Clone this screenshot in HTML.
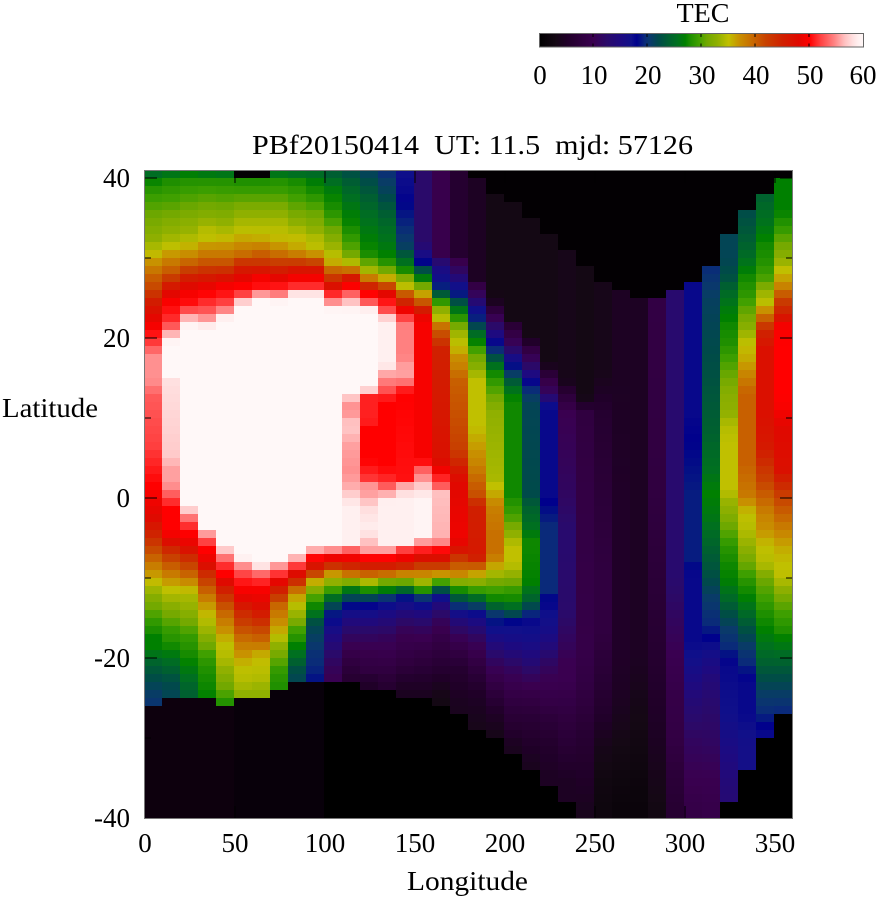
<!DOCTYPE html>
<html>
<head>
<meta charset="utf-8">
<style>
html,body{margin:0;padding:0;background:#fff;}
svg{display:block;}
text{font-family:"Liberation Serif","DejaVu Serif",serif;fill:#000;}
</style>
</head>
<body>
<svg id="s" xmlns="http://www.w3.org/2000/svg" width="878" height="900" viewBox="0 0 878 900">
<defs>
<linearGradient id="cb" x1="0" y1="0" x2="1" y2="0">
<stop offset="0" stop-color="#000000"/>
<stop offset="0.05" stop-color="#140814"/>
<stop offset="0.0833" stop-color="#200028"/>
<stop offset="0.1333" stop-color="#300040"/>
<stop offset="0.1667" stop-color="#3a0050"/>
<stop offset="0.2083" stop-color="#2a0a6a"/>
<stop offset="0.25" stop-color="#1e0a80"/>
<stop offset="0.2833" stop-color="#10108a"/>
<stop offset="0.30" stop-color="#00008c"/>
<stop offset="0.325" stop-color="#0a2a7a"/>
<stop offset="0.3417" stop-color="#0a3a6a"/>
<stop offset="0.3667" stop-color="#004a4a"/>
<stop offset="0.40" stop-color="#006030"/>
<stop offset="0.425" stop-color="#007020"/>
<stop offset="0.45" stop-color="#008000"/>
<stop offset="0.4667" stop-color="#209000"/>
<stop offset="0.4917" stop-color="#40a000"/>
<stop offset="0.5167" stop-color="#70a800"/>
<stop offset="0.55" stop-color="#90b000"/>
<stop offset="0.5833" stop-color="#c0c000"/>
<stop offset="0.6167" stop-color="#c89000"/>
<stop offset="0.65" stop-color="#c87000"/>
<stop offset="0.6667" stop-color="#c86000"/>
<stop offset="0.70" stop-color="#c84000"/>
<stop offset="0.75" stop-color="#d02000"/>
<stop offset="0.80" stop-color="#e00800"/>
<stop offset="0.8333" stop-color="#ff0000"/>
<stop offset="0.8667" stop-color="#ff4040"/>
<stop offset="0.9083" stop-color="#ff8080"/>
<stop offset="0.9417" stop-color="#ffc0c0"/>
<stop offset="0.9667" stop-color="#ffe0e0"/>
<stop offset="0.9833" stop-color="#fff0f0"/>
<stop offset="1" stop-color="#fff8f8"/>
</linearGradient>
</defs>

<!-- colorbar -->
<text x="703" y="22" font-size="27" text-anchor="middle" textLength="53" lengthAdjust="spacingAndGlyphs">TEC</text>
<rect x="539.5" y="33.5" width="324" height="13.5" fill="url(#cb)" stroke="#666" stroke-width="1"/>
<g stroke="#000" stroke-width="1">
<line x1="593" y1="34" x2="593" y2="37"/><line x1="593" y1="43.5" x2="593" y2="46.5"/>
<line x1="647" y1="34" x2="647" y2="37"/><line x1="647" y1="43.5" x2="647" y2="46.5"/>
<line x1="701" y1="34" x2="701" y2="37"/><line x1="701" y1="43.5" x2="701" y2="46.5"/>
<line x1="755" y1="34" x2="755" y2="37"/><line x1="755" y1="43.5" x2="755" y2="46.5"/>
<line x1="809" y1="34" x2="809" y2="37"/><line x1="809" y1="43.5" x2="809" y2="46.5"/>
</g>
<g font-size="27" text-anchor="middle">
<text x="540" y="84">0</text>
<text x="594" y="84">10</text>
<text x="648" y="84">20</text>
<text x="702" y="84">30</text>
<text x="756" y="84">40</text>
<text x="810" y="84">50</text>
<text x="863" y="84">60</text>
</g>

<!-- title -->
<text x="472.5" y="154" font-size="27" text-anchor="middle" textLength="441" lengthAdjust="spacingAndGlyphs" xml:space="preserve">PBf20150414  UT: 11.5  mjd: 57126</text>

<!-- heatmap -->
<g id="hm" shape-rendering="crispEdges"></g>

<!-- frame -->
<rect x="144.5" y="170.5" width="648" height="648" fill="none" stroke="#777" stroke-width="1"/>
<g stroke="#000" stroke-width="1.2" shape-rendering="crispEdges">
<line x1="145" y1="178" x2="157" y2="178"/><line x1="145" y1="258" x2="151" y2="258"/>
<line x1="145" y1="338" x2="157" y2="338"/><line x1="145" y1="418" x2="151" y2="418"/>
<line x1="145" y1="498" x2="157" y2="498"/><line x1="145" y1="578" x2="151" y2="578"/>
<line x1="145" y1="658" x2="157" y2="658"/><line x1="145" y1="738" x2="151" y2="738"/>
<line x1="792" y1="178" x2="780" y2="178"/><line x1="792" y1="258" x2="786" y2="258"/>
<line x1="792" y1="338" x2="780" y2="338"/><line x1="792" y1="418" x2="786" y2="418"/>
<line x1="792" y1="498" x2="780" y2="498"/><line x1="792" y1="578" x2="786" y2="578"/>
<line x1="792" y1="658" x2="780" y2="658"/><line x1="792" y1="738" x2="786" y2="738"/>
<line x1="235" y1="171" x2="235" y2="183"/><line x1="325" y1="171" x2="325" y2="183"/>
<line x1="415" y1="171" x2="415" y2="183"/><line x1="505" y1="171" x2="505" y2="183"/>
<line x1="595" y1="171" x2="595" y2="183"/><line x1="685" y1="171" x2="685" y2="183"/>
<line x1="775" y1="171" x2="775" y2="183"/>
<line x1="235" y1="818" x2="235" y2="806"/><line x1="325" y1="818" x2="325" y2="806"/>
<line x1="415" y1="818" x2="415" y2="806"/><line x1="505" y1="818" x2="505" y2="806"/>
<line x1="595" y1="818" x2="595" y2="806"/><line x1="685" y1="818" x2="685" y2="806"/>
<line x1="775" y1="818" x2="775" y2="806"/>
</g>

<!-- y tick labels -->
<g font-size="27" text-anchor="end">
<text x="130" y="187">40</text>
<text x="130" y="347">20</text>
<text x="130" y="507">0</text>
<text x="130" y="667">-20</text>
<text x="130" y="827">-40</text>
</g>
<!-- x tick labels -->
<g font-size="27" text-anchor="middle">
<text x="145" y="852">0</text>
<text x="235" y="852">50</text>
<text x="325" y="852">100</text>
<text x="415" y="852">150</text>
<text x="505" y="852">200</text>
<text x="595" y="852">250</text>
<text x="685" y="852">300</text>
<text x="775" y="852">350</text>
</g>
<text x="467.5" y="890" font-size="27" text-anchor="middle" textLength="121" lengthAdjust="spacingAndGlyphs">Longitude</text>
<text x="50" y="417" font-size="27" text-anchor="middle" textLength="96" lengthAdjust="spacingAndGlyphs">Latitude</text>
</svg>

<script>
(function(){
var P=[[0,"000000"],[3,"140814"],[5,"200028"],[8,"300040"],[10,"3a0050"],[12.5,"2a0a6a"],[15,"1e0a80"],[17,"10108a"],[18,"00008c"],[19.5,"0a2a7a"],[20.5,"0a3a6a"],[22,"004a4a"],[24,"006030"],[25.5,"007020"],[27,"008000"],[28,"209000"],[29.5,"40a000"],[31,"70a800"],[33,"90b000"],[35,"c0c000"],[37,"c89000"],[39,"c87000"],[40,"c86000"],[42,"c84000"],[45,"d02000"],[48,"e00800"],[50,"ff0000"],[52,"ff4040"],[54.5,"ff8080"],[56.5,"ffc0c0"],[58,"ffe0e0"],[59,"fff0f0"],[60,"fff8f8"]];
var PR=P.map(function(p){var h=p[1];return [p[0],parseInt(h.substr(0,2),16),parseInt(h.substr(2,2),16),parseInt(h.substr(4,2),16)];});
function pal(v){
  if(v<=0)return "rgb(0,0,0)";
  for(var i=1;i<PR.length;i++){
    if(v<=PR[i][0]){
      var a=PR[i-1],b=PR[i],t=(v-a[0])/(b[0]-a[0]);
      return "rgb("+Math.round(a[1]+(b[1]-a[1])*t)+","+Math.round(a[2]+(b[2]-a[2])*t)+","+Math.round(a[3]+(b[3]-a[3])*t)+")";
    }
  }
  var l=PR[PR.length-1];return "rgb("+l[1]+","+l[2]+","+l[3]+")";
}
function interp(k,L){
  if(L>=k[0])return k[1];
  for(var i=2;i<k.length;i+=2){
    if(L>=k[i]){var l0=k[i-2],v0=k[i-1],l1=k[i],v1=k[i+1];return v0+(v1-v0)*(L-l0)/(l1-l0);}
  }
  return k[k.length-1];
}
var N=99;
var C=[
[N,-26.3,[40,24,38.8,27,36.9,29,34.4,31,31.4,33,29.8,35,28,38,26.8,40,25.2,42,24,45,22,48,20.2,50,18.6,52,17,55,14,55,12,53,6,52,3.5,51,1,50,-2.8,48,-4.8,45,-6.5,42,-7.8,40,-9,38,-11,35,-12.2,33,-14,31,-15.6,29,-17.7,27,-19,27,-21,24,-23,22,-24.2,21,-26,20]],
[N,-25.2,[40,25,38.5,28,35.9,30,33.8,32,31.8,33.5,30.5,35,28.9,38,27.7,40,26.8,42,26,45,24.8,48,23.5,50,21.9,51,20.7,53,19.8,56,18.6,60,14.5,60,14,58,5,57,3,55.5,1.3,55.5,0.5,54,-0.7,52,-1.6,50,-4.5,50,-5.7,48,-7.3,43,-9,40,-10.6,37,-11.8,35,-13.5,33,-15.1,31,-16.8,29,-18.4,28,-20,26,-21.7,24,-23.4,22,-25,21.5]],
[N,-25.2,[40,26,38.8,28,35.9,30.5,33.8,32.5,32.2,33.5,31,35,29.7,37,28.5,40,27.7,42,26.8,45,25.6,48,24.4,50,23.5,50.5,22.7,52.5,21.9,55.5,21,59,20.5,60,-1.2,60,-2,57,-2.8,54.5,-3.6,52,-4.9,50,-6.5,48,-8.2,43,-9.8,40,-11.4,36,-12.7,34,-14.3,33,-16,31,-17.6,29,-19.3,28,-20.9,27,-22.6,25.5,-24.2,24]],
[N,-25.2,[40,25,38.8,28,36.3,30.5,34.2,32.5,32.6,34.5,31.4,35,30.5,37,29.3,39,28.1,42,27,45,26,48,24.8,50,24,51,23.1,52,21.9,54.5,21,58,20.3,60,-4,60,-4.9,55.5,-5.7,52.5,-6.9,50,-8.6,48,-10.2,43,-11.9,40,-13.5,37,-15.1,35,-16.8,33.5,-18.4,31.5,-20.1,29,-21.7,28,-23.4,27.5,-25,27]],
[N,-26.3,[40,24.5,38.8,28,37.1,29.5,35,31.5,33,33.5,31.8,35,30.5,37,29.3,39,28.1,42,27.2,45,26,49,25.2,50,24,51.5,23.1,53,22.3,56.5,21.5,60,-6.1,60,-6.9,57,-7.7,54.5,-8.8,51.5,-10.2,49.5,-11.9,45,-13.5,41.5,-15.1,39,-16.8,37,-18.4,35,-20.1,34.5,-21.7,33,-23.4,31.5,-24.6,30,-25.8,28]],
[39,-25.2,[39,27.5,37.1,29.5,35,32.5,33,34.5,32.2,35,31,37,29.7,39,28.9,42,28.1,45,26.8,48,25.6,50,24.8,51.5,24,55.5,23.2,60,-7.7,60,-8.6,56,-9.4,53,-10.6,51,-11.9,49.5,-13.1,48,-14.7,44,-16.4,41.5,-18,39,-19.7,37,-21.3,35,-23,34.5,-24.6,33]],
[39,-25.2,[39,27.5,37.1,29.5,35,32.5,33,34.5,32,35,31,37,30.1,39,28.9,42,28,45,27.2,48,26.4,50,25.6,50.5,24.8,54.5,24,60,-8.6,60,-9.4,55,-10.6,51.5,-11.9,49.5,-13.5,48,-15.1,45,-16.8,41.5,-18.4,39,-19.7,36,-20.9,35,-22.6,34.5,-24.2,33]],
[N,-24.2,[40,24.5,38.8,28,37.1,29.5,35,32.5,33,34.5,31.8,35,30.5,37,29.3,40,28.1,44,26.8,48,26,50,25.2,51.5,24.4,56,23.6,60,-8.2,60,-9,54.5,-10.2,50.5,-11.9,45,-13.5,40,-15.1,38,-16.8,36,-18.4,33.5,-20.1,31,-21.7,29,-23.4,28]],
[N,-23.2,[40,24,38.8,27.5,37.1,29,35,31,33,33.5,31.8,35,30.5,36,29.3,39,28.1,45,27.2,48,26.4,50,25.6,51.5,24.8,58,24,60,-6.9,60,-7.7,57,-8.6,53,-9.8,48,-11,43,-12.3,37,-13.5,35,-15.1,33,-16.8,29.5,-18.4,27.5,-20.1,25,-21.7,22.5,-23,21.5]],
[N,-23.2,[40,24,38.8,26.5,37.1,28,35,30.5,33,32.5,31.4,34.5,30.1,35,28.9,40,28.1,45,27.2,48,26.4,50,25.6,51.5,24.8,58,24,60,-6.5,60,-7.3,52,-8.6,48,-9.8,42,-11,35,-12.3,31,-13.5,28,-14.7,26,-16,22,-17.6,21,-19.3,20,-21.3,19.5,-23,18.5]],
[N,-23.2,[40,23,38.8,25,37.1,27,35,28,33,30.5,31.4,32.5,29.7,34.5,28.5,36,27.2,41.5,26,45,25.2,50,24,53,23.1,59,22.5,60,-6.5,60,-6.9,55,-7.7,50,-8.8,44,-9.8,37,-11,32.5,-12.3,27.5,-13.5,22.5,-14.7,19,-16,17,-17.6,15,-19.3,13,-21.3,11,-23,10]],
[N,-23.2,[40,22,38.8,23.5,37.1,25,35,26.5,33,27.5,31.4,29,29.7,31,28.9,33.5,28.1,36,27.2,42,26.4,48,25.6,50,24.8,53,24,55.5,23.1,59,22.3,60,12.8,60,12,57,10.5,54.5,8.5,57,6,55.5,3,55,1.3,55.5,0.5,56.5,-0.7,58,-1.5,59,-6,59,-6.5,55,-7.7,50,-9,44,-10.2,37,-11,31,-12.3,23.5,-13.5,19,-14.7,16.5,-16,14,-17.6,11.5,-19.3,9.5,-21.3,7.5,-23,6]],
[N,-24.2,[40,21,38.8,22,37.1,23.5,35,25,33,26,31,27,29.3,28,28.1,32.5,27.2,35,26.4,40,25.6,45,24.8,50,24,50.5,23.1,58,22.3,60,13.2,60,12.8,57,12,51,9,51,8.3,50,4.2,50,2,51.5,1.3,55,0,55.5,-2,58,-4.5,59,-5.5,57,-6.9,55.5,-7.7,51,-9,45,-10.2,38,-11.4,31,-12.7,22,-13.9,17.5,-15.1,16,-16.8,12.5,-18.4,10.5,-20.1,9,-21.7,8,-23.4,5]],
[N,-24.2,[40,19.5,38.8,20.5,37.1,21.5,35,23.5,33,25,31,26,28.9,27.5,27.7,31,26.8,35,25.6,42,24.8,48,24,50,23.1,52,22.3,53,21.5,59,16,59,15,56,14,54.5,12.4,52,11.5,50,3.4,50,1.5,51.5,0,56,-1,59,-6,59,-6.9,55.5,-7.7,51,-9,45,-10.2,37,-11,30,-11.8,27,-12.7,20.5,-13.9,17,-15.6,14,-17.6,11,-19.7,9.5,-21.7,8,-23.8,6]],
[N,-25.2,[40,17,37.1,17.5,33,19.5,30.5,21,28.9,25,27.7,27.5,26.4,33,25.6,35,24.8,40,24,43,23.1,48,22.3,50,21.5,53,20.7,54.5,17,54.5,15.7,55.5,14.1,55.5,13.5,52,12.4,50,1.7,50.5,1.3,55,0,58,-1,59,-6,59,-6.9,52,-8.2,48,-9.4,42,-10.2,35,-11.4,27.5,-12.7,19,-13.9,16,-15.6,12.5,-17.2,10,-19.3,9,-21.3,7.5,-23.4,5,-25,4]],
[N,-25.2,[40,12.5,31,12.5,30.1,15,28.9,17,28.1,20.5,27,25,26,29.5,25,35,24,39,22.9,45,21.5,49.5,4.2,49.5,3.4,52.5,1.7,55.5,0.5,58,-1,59.5,-5,59.5,-5.8,56,-6.5,52.5,-7.7,48,-9,42,-9.8,38,-10.6,35,-11.9,28,-12.7,20.5,-13.9,17,-15.1,14,-16.8,11,-19.3,8.5,-21.3,7,-23.4,5,-25,4]],
[N,-26.3,[40,9.5,29.5,9.5,28.9,12.5,27.7,15.5,26.4,17,25.2,20.5,24,27.5,22.7,33,21.5,35,20.7,39,19.4,42,17.8,45,4.2,47,2.5,50,1.3,52.5,0.5,54,0,56.5,-5.7,56,-6.5,51.5,-7.7,48,-9,42,-10.2,35,-11,28.5,-11.9,22,-12.7,17.5,-13.9,14,-15.6,11,-17.6,9,-19.7,7.5,-21.7,6,-23.8,4,-25.4,3]],
[N,-27.3,[40,6,29.5,6,28.9,9,27.2,12.5,25.6,17,24.4,19.5,23.1,25,21.9,28,20.7,31.5,19.4,34.5,18.2,35,17,37,15.7,38,14.1,40,5.8,42,4.2,44,2.5,47,1.3,48,-5.3,49,-6.5,48,-8.2,42,-9.8,38,-10.6,33.5,-11.9,27.5,-13.1,22,-13.9,19.5,-15.1,15.5,-16.4,12.5,-18,10,-19.7,8,-21.7,6,-23.8,5,-26.3,4]],
[39,-29.1,[39,4.5,26.5,4.5,25.6,9,24,12.5,22.7,17,21.1,20.5,19.8,25,18.6,27.5,17.4,30.5,15.7,32.5,14.1,35,8.3,35,6.7,36,5,37,3.4,38,1.3,40,0,41,-1.5,45,-7.7,46,-9.4,38,-10.6,33.5,-12.3,27.5,-13.5,22,-14.7,17.5,-16.4,14,-18,11,-20.1,9,-22.2,7,-24.6,5,-27.1,4,-29,3.5]],
[37.2,-30.2,[37.2,3,24.8,3,23.5,4.5,22.3,9,20.7,12.5,19,17,17.4,20.5,16.1,25,14.9,27.5,13.3,29.5,11.6,31.5,10,33,2,34,0,36,-1.5,38,-5,39,-7.5,39,-9.4,35,-11,31,-12.7,28,-13.9,24,-14.7,20.5,-16.8,17,-18.8,14,-21,11,-23,9,-25,7,-27,5,-29.5,3.5]],
[36.1,-32.2,[36.1,3,21.5,3,20.7,7,19,10,17.8,12.5,16.5,17,14.9,20.5,13.3,25,11.6,27.5,0,27.5,-1.5,28.5,-3,30,-5,33,-6.5,35,-8.5,35,-10,33,-11.5,29.5,-12.7,28,-14,25,-15,21,-16,17.5,-18,16,-19.7,14,-21.3,11.5,-23,10,-25,8.5,-27.1,7,-29.5,5.5,-31.2,4]],
[34,-34.1,[34,3,19.8,3,19,4.5,17.4,9.5,15.7,12.5,14.1,17,12.4,20.5,10.8,21.5,0,22,-1.5,24,-4,25.5,-6,27.5,-11,27,-13.1,24,-14.3,20.5,-15.6,17.5,-17,17,-18.9,15.5,-20.5,14,-22.2,11.5,-24.6,9,-27.1,7,-30.4,5.5,-33.3,4]],
[32.2,-36.2,[32.2,3,16.5,3,15.5,4.5,14.5,8,12.4,11.5,10.8,17.5,0,17.5,-4,19.5,-12,19.5,-13,18,-15,17,-17,16,-19,14,-21,11.5,-23,10,-25.4,9,-28,7,-31.2,5.5,-34.5,4.5]],
[30.1,-38,[30.1,3.5,14,3.5,12.4,7,10,10,0,11.5,-5,13,-15,12.5,-20.9,10,-23,10,-27.1,8,-31.2,6.5,-35.3,4.5]],
[28.3,-N,[28.3,3,12,3,10,8,0,8.5,-20,9,-25,8,-29.1,6.5,-33.3,5.5,-37.4,4.5,-40,3.5]],
[26.2,-N,[26.2,3.5,15,3.5,10,6,0,7,-10,8,-17,8,-23,6.5,-27.1,5.5,-31.2,3.5,-35.3,2.5,-40,2]],
[25.2,-N,[25.2,4.5,15,4.5,0,5,-20,5,-25,4.5,-31,3,-36,2,-40,1.5]],
[24.3,-N,[24.3,4.5,0,4.5,-20,4.5,-25,3.5,-35,2,-40,1.5]],
[24.3,-N,[24.3,8.5,0,8,-10,7,-20,6,-30,4.5,-38,3,-40,2.5]],
[25.2,-N,[25.2,13,0,13,-10,13,-15,11.5,-20,10,-25,9,-30,8.5,-35,7,-40,6]],
[26.2,-N,[26.2,17.5,10,17.5,0,19,-8,19,-10,17.5,-18,17.5,-20,17,-25,14,-30,11.5,-35,10,-40,8.5]],
[28.2,-N,[28.2,19.5,24,21,15,22.5,8,24,3,25.5,0,27,-3,26,-7,24,-10,22.5,-13,20.5,-16,19.5,-19,17,-23,14,-27,12.5,-31,11.5,-35,10,-40,9]],
[32.1,-38,[32.1,21.5,29,21.5,26.8,22.5,24.8,25,22.7,26.5,20.7,27.5,18.6,28,16.5,29.5,14.5,31,12.4,32.5,10,33,8.3,34.5,6.3,35,0.5,35,-0.7,33.5,-2.4,32.5,-4.4,30.5,-6.5,28.5,-8.6,27.5,-10.6,27,-12.7,25,-14.7,22.5,-16.8,20.5,-18.9,19.5,-20.9,17.5,-27.1,17,-31.2,15.5,-35.3,14,-38,13.5]],
[35.1,-34,[35.1,22,31,24,28.9,25.5,26.8,27.5,24.8,28.5,22.7,30.5,20.7,32.5,18.6,35,16.5,36,14.5,38,12.4,40,4,40,0,38.5,-2.4,35,-4.4,34.5,-6.5,33,-8.6,31,-10.6,28.5,-12.7,27,-14.7,25,-16.8,22.5,-18.9,20.5,-20.9,19.5,-23,17.5,-27.1,17.5,-31.2,16.5,-34,16.5]],
[37,-30.1,[37,24,33,26,31,27.5,28.9,28,26.8,29.5,24.8,33.5,23.5,35,22.3,38,21.1,42,19.8,45,17.8,47,10,47,6,46,3,43,1.7,42,-0.3,40,-2.4,38,-4.4,37,-6.5,35,-8.6,34.5,-10.6,31,-12.7,29.5,-14.7,28,-16.8,27,-18.9,25.5,-20.9,24,-23,22,-25,20.5,-27.1,19.5,-29.1,17.5]],
[39,-27.1,[39,27,35,27,33,28.5,31,31,28.9,33,27.7,35,26,37,24.8,40,23.5,43,22.3,45,20.7,49.5,18.6,50,12.4,50,10.4,49.5,8.3,48,3,47,1.7,45,-0.3,42,-2.4,40,-4.4,38,-6.5,36,-8.6,35,-9.8,35,-11.4,33.5,-13.1,31,-14.7,29.5,-16.8,28,-18.9,26,-20.9,24,-23,22,-25,20.5,-26.7,19.5]]
];
var out=[];
for(var k=0;k<36;k++){
  var c=C[k],T=c[0],B=c[1],kp=c[2];
  var x=144+18*k;
  var bcol=k<=4?"#0d000d":(k<=9?"#08000a":"#000000");
  for(var j=0;j<81;j++){
    var y=170+8*j;
    var L=40-(y+4-170)/8.1;
    var col;
    if(L>T){col="#030003";}
    else if(L<B){col=bcol;}
    else{col=pal(interp(kp,L));}
    var h=(j==80)?8:8.6;
    out.push('<rect x="'+x+'" y="'+y+'" width="18.6" height="'+h+'" fill="'+col+'"/>');
  }
}
document.getElementById("hm").innerHTML=out.join("");
})();
</script>
</body>
</html>
